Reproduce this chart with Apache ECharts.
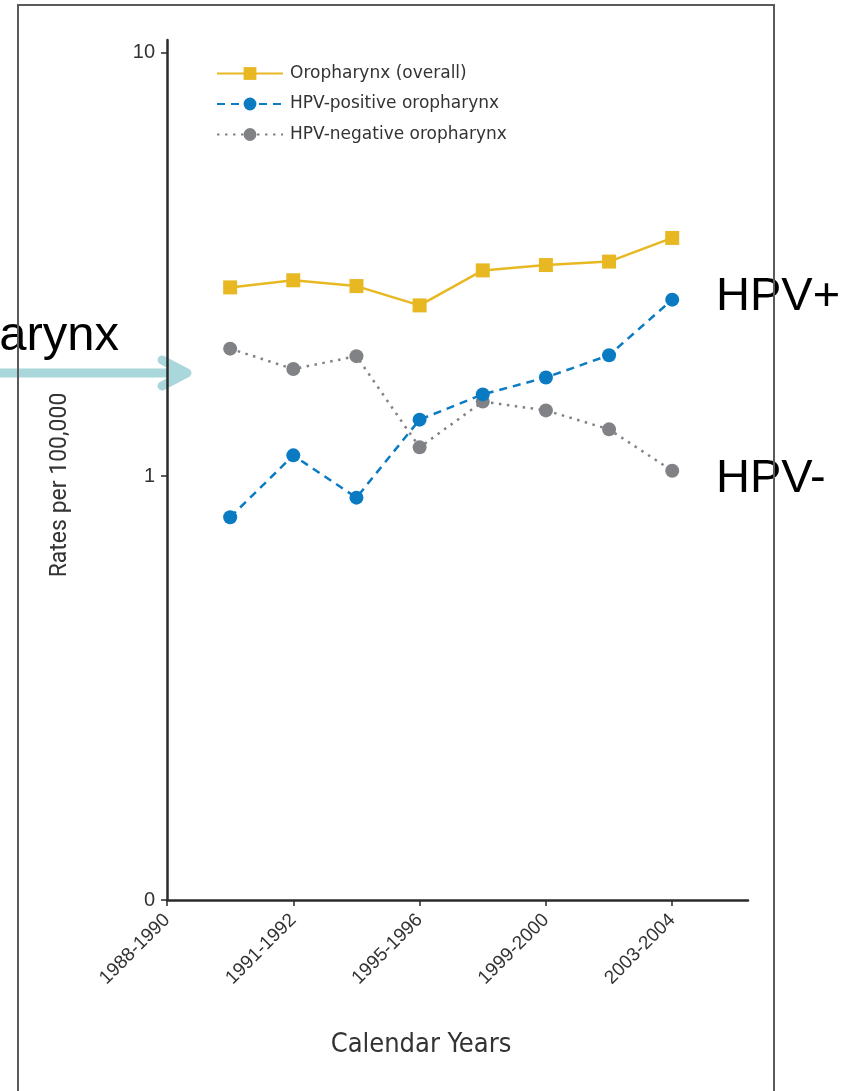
<!DOCTYPE html>
<html>
<head>
<meta charset="utf-8">
<script src="https://cdn.jsdelivr.net/npm/echarts@6/dist/echarts.min.js"></script>
<style>
  html, body { margin: 0; padding: 0; background: #fff; }
  #chart { width: 858px; height: 1091px; }
</style>
</head>
<body>
<div id="chart"></div>
<script>
// Incidence rates per 100,000 by calendar period (log scale)
const periodPositions = [1, 2, 3, 4, 5, 6, 7, 8];
const overall = [2.79, 2.90, 2.81, 2.53, 3.06, 3.15, 3.21, 3.65];
const hpvPositive = [0.80, 1.12, 0.89, 1.36, 1.56, 1.71, 1.93, 2.61];
const hpvNegative = [2.00, 1.79, 1.92, 1.17, 1.50, 1.43, 1.29, 1.03];

// Axis ticks
const xTickPositions = [0, 2, 4, 6, 8];
const xTickLabels = ['1988-1990', '1991-1992', '1995-1996', '1999-2000', '2003-2004'];
const yTickValues = [0.1, 1, 10];
const yTickLabels = ['0', '1', '10'];

const seriesNames = ['Oropharynx (overall)', 'HPV-positive oropharynx', 'HPV-negative oropharynx'];

const pairs = vals => periodPositions.map((x, i) => [x, vals[i]]);

const axisColor = '#2b2b2b';
const textColor = '#333333';
const colors = { overall: '#E8B822', pos: '#0A7BC2', neg: '#808285' };
const arrowColor = '#AAD7DB';

const chart = echarts.init(document.getElementById('chart'), null, { renderer: 'canvas' });

chart.setOption({
  animation: false,
  backgroundColor: '#ffffff',
  grid: { left: 167, right: 110, top: 40, bottom: 191, containLabel: false },
  legend: {
    orient: 'vertical',
    left: 211,
    top: 60,
    itemWidth: 66,
    itemHeight: 16,
    itemGap: 13.5,
    textStyle: { fontFamily: '"DejaVu Sans", sans-serif', fontSize: 17, color: textColor, padding: [0, 0, 0, 2] },
    data: seriesNames
  },
  xAxis: {
    type: 'value',
    min: 0,
    max: 9.2,
    splitLine: { show: false },
    axisLine: { onZero: false, lineStyle: { color: axisColor, width: 2.5 } },
    axisTick: { show: true, length: 6, customValues: xTickPositions, lineStyle: { color: axisColor, width: 1.5 } },
    axisLabel: {
      customValues: xTickPositions,
      rotate: 45,
      margin: 17,
      fontFamily: '"Liberation Sans", Arial, sans-serif',
      fontSize: 19,
      color: textColor,
      formatter: v => {
        const i = xTickPositions.indexOf(v);
        return i >= 0 ? xTickLabels[i] : '';
      }
    }
  },
  yAxis: {
    type: 'log',
    logBase: 10,
    min: 0.1,
    max: 10.7,
    name: 'Rates per 100,000',
    nameLocation: 'middle',
    nameGap: 95,
    nameTextStyle: {
      fontFamily: 'Roboto, "Liberation Sans", sans-serif',
      fontSize: 23,
      color: textColor,
      padding: [0, 30, 0, 0]
    },
    splitLine: { show: false },
    axisLine: { show: true, lineStyle: { color: axisColor, width: 2.5 } },
    axisTick: { show: true, length: 6, customValues: yTickValues, lineStyle: { color: axisColor, width: 1.5 } },
    axisLabel: {
      customValues: yTickValues,
      margin: 12,
      fontFamily: '"Liberation Sans", Arial, sans-serif',
      fontSize: 20,
      color: textColor,
      formatter: v => {
        const i = yTickValues.findIndex(t => Math.abs(t - v) < 1e-6);
        return i >= 0 ? yTickLabels[i] : '';
      }
    }
  },
  series: [
    {
      name: seriesNames[0],
      type: 'line',
      data: pairs(overall),
      symbol: 'rect',
      symbolSize: 14,
      color: colors.overall,
      lineStyle: { color: colors.overall, width: 2.5, type: 'solid' },
      itemStyle: { color: colors.overall },
      z: 3
    },
    {
      name: seriesNames[1],
      type: 'line',
      data: pairs(hpvPositive),
      symbol: 'circle',
      symbolSize: 14,
      color: colors.pos,
      lineStyle: { color: colors.pos, width: 2.5, type: [8, 6] },
      itemStyle: { color: colors.pos },
      z: 4
    },
    {
      name: seriesNames[2],
      type: 'line',
      data: pairs(hpvNegative),
      symbol: 'circle',
      symbolSize: 14,
      color: colors.neg,
      lineStyle: { color: colors.neg, width: 2.5, type: [2.5, 5.5] },
      itemStyle: { color: colors.neg },
      z: 3
    }
  ],
  graphic: [
    // outer frame
    {
      type: 'rect',
      shape: { x: 18, y: 5, width: 756, height: 1100 },
      style: { fill: 'none', stroke: '#5a5a5a', lineWidth: 2 },
      z: 1
    },
    // x-axis title
    {
      type: 'text',
      x: 421,
      y: 1045,
      style: {
        text: 'Calendar Years',
        font: '27px "Liberation Sans Narrow", "DejaVu Sans Condensed", sans-serif',
        fill: textColor,
        align: 'center',
        verticalAlign: 'middle'
      }
    },
    // annotation arrow: shaft and open head
    {
      type: 'line',
      shape: { x1: 0, y1: 373, x2: 184, y2: 373 },
      style: { stroke: arrowColor, lineWidth: 9, lineCap: 'butt' },
      z: -1
    },
    {
      type: 'polyline',
      shape: { points: [[162, 360], [187, 373], [162, 386]] },
      style: { stroke: arrowColor, lineWidth: 9, fill: 'none', lineCap: 'round', lineJoin: 'round' },
      z: -1
    },
    // annotation labels
    {
      type: 'text',
      x: 119,
      y: 336,
      style: {
        text: 'Oropharynx',
        font: '49px "Liberation Sans", Arial, sans-serif',
        fill: '#000',
        align: 'right',
        verticalAlign: 'middle'
      },
      z: 0
    },
    {
      type: 'text',
      x: 716,
      y: 297,
      style: {
        text: 'HPV+',
        font: '47px "Liberation Sans", Arial, sans-serif',
        fill: '#000',
        align: 'left',
        verticalAlign: 'middle'
      },
      z: 0
    },
    {
      type: 'text',
      x: 716,
      y: 479,
      style: {
        text: 'HPV-',
        font: '47px "Liberation Sans", Arial, sans-serif',
        fill: '#000',
        align: 'left',
        verticalAlign: 'middle'
      },
      z: 0
    }
  ]
});
</script>
</body>
</html>
